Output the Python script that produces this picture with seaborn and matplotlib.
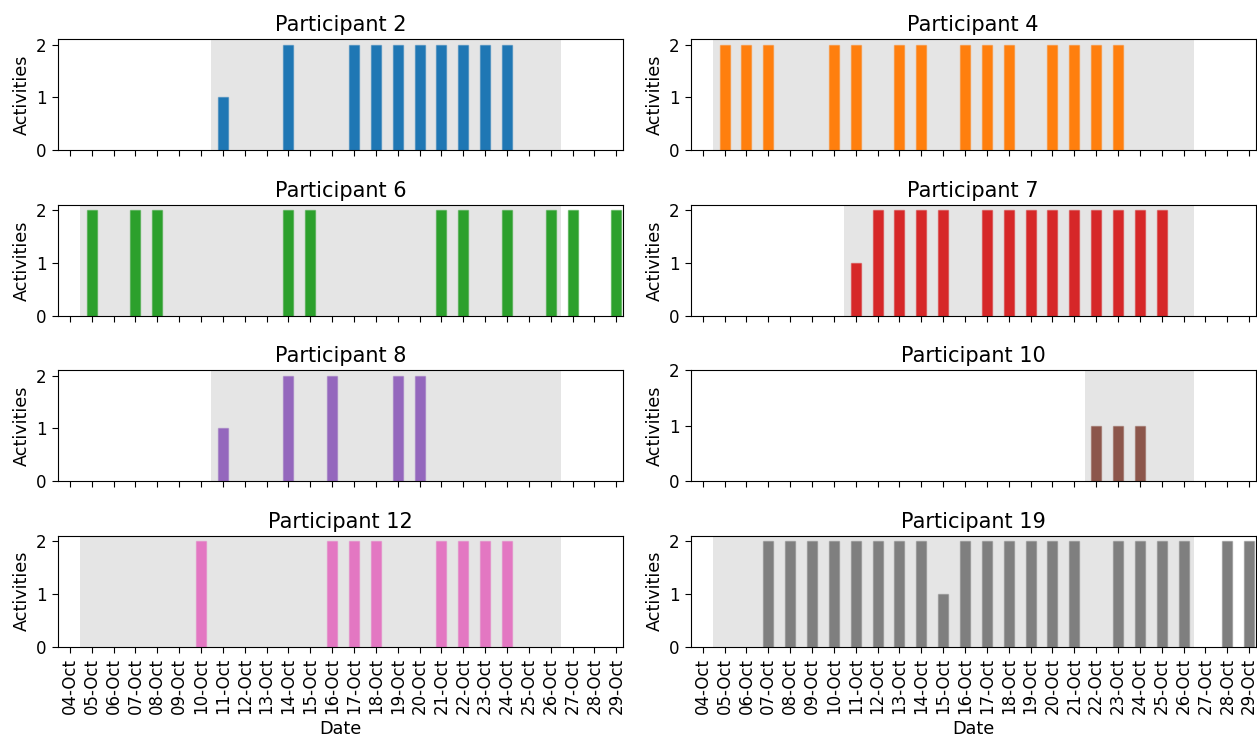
import matplotlib
matplotlib.use("Agg")
import matplotlib.pyplot as plt
import matplotlib.dates as mdates
import numpy as np
import pandas as pd
import seaborn as sns

YEAR = "2019"

participants = ["Participant 2", "Participant 4", "Participant 6", "Participant 7",
                "Participant 8", "Participant 10", "Participant 12", "Participant 19"]

# Days (October) with recorded activities, and the activity count on each day
p2_days = [11, 14, 17, 18, 19, 20, 21, 22, 23, 24]
p2_vals = [1, 2, 2, 2, 2, 2, 2, 2, 2, 2]

p4_days = [5, 6, 7, 10, 11, 13, 14, 16, 17, 18, 20, 21, 22, 23]
p4_vals = [2, 2, 2, 2, 2, 2, 2, 2, 2, 2, 2, 2, 2, 2]

p6_days = [5, 7, 8, 14, 15, 21, 22, 24, 26, 27, 29]
p6_vals = [2, 2, 2, 2, 2, 2, 2, 2, 2, 2, 2]

p7_days = [11, 12, 13, 14, 15, 17, 18, 19, 20, 21, 22, 23, 24, 25]
p7_vals = [1, 2, 2, 2, 2, 2, 2, 2, 2, 2, 2, 2, 2, 2]

p8_days = [11, 14, 16, 19, 20]
p8_vals = [1, 2, 2, 2, 2]

p10_days = [22, 23, 24]
p10_vals = [1, 1, 1]

p12_days = [10, 16, 17, 18, 21, 22, 23, 24]
p12_vals = [2, 2, 2, 2, 2, 2, 2, 2]

p19_days = [7, 8, 9, 10, 11, 12, 13, 14, 15, 16, 17, 18, 19, 20, 21,
            23, 24, 25, 26, 28, 29]
p19_vals = [2, 2, 2, 2, 2, 2, 2, 2, 1, 2, 2, 2, 2, 2, 2,
            2, 2, 2, 2, 2, 2]

# Study window (first and last day, October) for each participant
window_start = [11, 5, 5, 11, 11, 22, 5, 5]
window_end = [26, 26, 26, 26, 26, 26, 26, 26]

# Shared date axis: 04-Oct .. 29-Oct
axis_first_day = 4
axis_last_day = 29

all_days = [p2_days, p4_days, p6_days, p7_days, p8_days, p10_days, p12_days, p19_days]
all_vals = [p2_vals, p4_vals, p6_vals, p7_vals, p8_vals, p10_vals, p12_vals, p19_vals]


def oct_num(day):
    return mdates.date2num(pd.Timestamp(f"{YEAR}-10-{day:02d}"))


sns.set_style("ticks")
plt.rcParams["font.family"] = ["DejaVu Sans"]
plt.rcParams["axes.edgecolor"] = "black"
plt.rcParams["axes.linewidth"] = 0.8
plt.rcParams["text.color"] = "black"
plt.rcParams["axes.labelcolor"] = "black"
plt.rcParams["xtick.color"] = "black"
plt.rcParams["ytick.color"] = "black"

palette = sns.color_palette("tab10", 8)

fig, axes = plt.subplots(4, 2, figsize=(12.57, 7.45), dpi=100, sharex=True)
fig.subplots_adjust(left=0.046, right=0.999, top=0.947, bottom=0.132,
                    wspace=0.12, hspace=0.495)

tick_nums = [oct_num(d) for d in range(axis_first_day, axis_last_day + 1)]

for i, ax in enumerate(axes.flatten()):
    df = pd.DataFrame({
        "Date": [oct_num(d) for d in all_days[i]],
        "Activities": all_vals[i],
    })
    ax.axvspan(oct_num(window_start[i]) - 0.53, oct_num(window_end[i]) + 0.46,
               color="#e5e5e5", lw=0, zorder=0)
    sns.barplot(data=df, x="Date", y="Activities", native_scale=True,
                color=palette[i], saturation=1, width=0.46, errorbar=None,
                edgecolor=(*palette[i], 0.45), linewidth=1.0,
                ax=ax, zorder=2)
    ax.set_title(participants[i], fontsize=15)
    ax.set_ylabel("Activities", fontsize=12.7)
    ax.set_yticks([0, 1, 2])
    if max(all_vals[i]) < 2:
        ax.set_ylim(0, 2)
    else:
        ax.set_ylim(0, 2.1)
    ax.set_xticks(tick_nums)
    ax.xaxis.set_major_formatter(mdates.DateFormatter("%d-%b"))
    ax.set_xlim(tick_nums[0] - 0.55, tick_nums[-1] + 0.3)
    ax.tick_params(axis="both", labelsize=12, direction="out", length=4.5, width=0.8)
    if i >= 6:
        ax.set_xlabel("Date", fontsize=12.7)
        for lbl in ax.get_xticklabels():
            lbl.set_rotation(90)
    else:
        ax.set_xlabel("")

fig.savefig("out.png", dpi=100)
